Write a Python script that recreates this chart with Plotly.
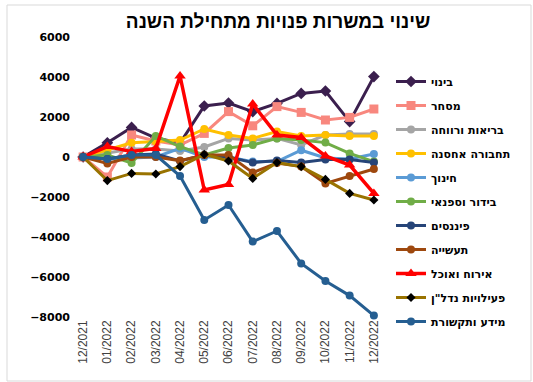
import plotly.graph_objects as go

# Months (x axis)
months = ["12/2021", "01/2022", "02/2022", "03/2022", "04/2022", "05/2022", "06/2022",
          "07/2022", "08/2022", "09/2022", "10/2022", "11/2022", "12/2022"]

# Change in job vacancies since the start of the year, by sector
construction = [0, 710, 1480, 950, 700, 2550, 2700, 2270, 2680, 3180, 3300, 1770, 4020]
commerce = [0, -1000, 1100, 800, 600, 1180, 2270, 1560, 2520, 2230, 1850, 1980, 2400]
health_welfare = [0, 200, 400, 400, 300, 500, 930, 850, 930, 600, 1100, 1150, 1150]
transport = [0, 350, 715, 770, 850, 1400, 1100, 930, 1270, 1050, 1100, 1050, 1050]
education = [0, -100, -50, 0, 430, 0, 0, -230, -230, 340, -50, -100, 150]
entertainment = [0, 100, -300, 1050, 520, 100, 450, 600, 930, 850, 720, 180, -230]
finance = [0, -100, 100, 150, -200, 100, 0, -280, -180, -280, -120, -120, -280]
industry = [0, -320, 0, 0, -180, 100, 100, -780, -300, -480, -1320, -950, -600]
hospitality = [0, 520, 270, 430, 4050, -1650, -1370, 2650, 1100, 980, 50, -400, -1820]
real_estate = [0, -1180, -820, -850, -480, 130, -200, -1070, -280, -480, -1120, -1820, -2150]
info_comm = [0, -100, 100, 100, -950, -3150, -2400, -4230, -3700, -5320, -6200, -6930, -7930]

series = [
    ("בינוי", construction, "#3b1f4e", "diamond", 9, None),
    ("מסחר", commerce, "#f8877e", "square", 9, None),
    ("בריאות ורווחה", health_welfare, "#a5a5a5", "circle", 8, None),
    ("תחבורה אחסנה", transport, "#ffc000", "circle", 8, None),
    ("חינוך", education, "#5b9bd5", "circle", 8, None),
    ("בידור וספנאי", entertainment, "#70ad47", "circle", 8, None),
    ("פיננסים", finance, "#264478", "circle", 8, None),
    ("תעשייה", industry, "#9e480e", "circle", 8, None),
    ("אירוח ואוכל", hospitality, "#ff0000", "triangle-up", 10, None),
    ("פעילויות נדל\"ן", real_estate, "#997300", "diamond", 7, "#000000"),
    ("מידע ותקשורת", info_comm, "#255e91", "circle", 8, None),
]

fig = go.Figure()
for i, (name, vals, color, symbol, size, mcolor) in enumerate(series):
    fig.add_trace(go.Scatter(
        x=months, y=vals, name=name, mode="lines+markers",
        line=dict(color=color, width=3.5 if color == "#ff0000" else 3),
        marker=dict(symbol=symbol, size=size, color=mcolor or color,
                    line=dict(width=0)),
        legendgroup=f"g{i}", cliponaxis=False,
    ))

# Light outer frame
fig.add_shape(type="rect", xref="paper", yref="paper",
              x0=(7 - 71) / 315, x1=(531 - 71) / 315,
              y0=(317 - 381) / 280, y1=(317 - 5) / 280,
              line=dict(color="#d9d9d9", width=1), fillcolor="rgba(0,0,0,0)",
              layer="below")

fig.update_layout(
    width=533, height=382,
    margin=dict(l=71, r=147, t=37, b=65),
    paper_bgcolor="white", plot_bgcolor="white",
    font=dict(family="Liberation Sans, Arial, sans-serif", color="#000000"),
    title=dict(text="שינוי במשרות פנויות מתחילת השנה",
               x=278 / 533, xanchor="center", y=1 - 21 / 382, yanchor="middle",
               font=dict(family="Liberation Sans, Arial, sans-serif", size=19,
                         weight="bold", color="#000000")),
    showlegend=True,
    legend=dict(x=(391 - 71) / 315, xanchor="left", y=(317 - 67) / 280, yanchor="top",
                font=dict(family="DejaVu Sans, Liberation Sans, sans-serif", size=11,
                          weight="bold", color="#000000"),
                itemwidth=30, tracegroupgap=5, bgcolor="rgba(0,0,0,0)"),
    xaxis=dict(type="category", range=[-0.5, 12.5], showgrid=False, zeroline=False,
               showline=False, ticks="", tickangle=-90,
               tickfont=dict(family="Liberation Sans, Arial, sans-serif", size=12,
                             color="#404040")),
    yaxis=dict(range=[-8000, 6000], tickvals=list(range(-8000, 6001, 2000)),
               showgrid=False, zeroline=False, showline=False, ticks="",
               tickfont=dict(family="DejaVu Sans, sans-serif", size=11,
                             weight="bold", color="#000000")),
)

fig.write_html("out.html")
